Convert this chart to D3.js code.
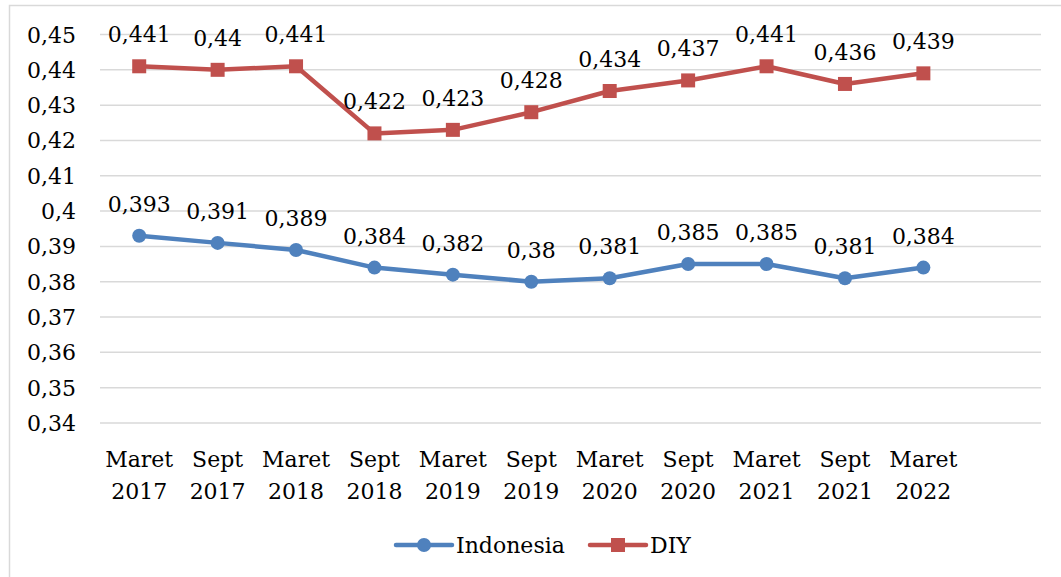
<!DOCTYPE html>
<html>
<head>
<meta charset="utf-8">
<script src="https://cdn.jsdelivr.net/npm/d3@7"></script>
<style>
  html, body { margin: 0; padding: 0; background: #fff; }
  svg text { font-family: "DejaVu Serif", serif; fill: #000; }
</style>
</head>
<body>
<svg id="canvas" width="1061" height="577"></svg>
<script>
// data
const periode = ["Maret 2017", "Sept 2017", "Maret 2018", "Sept 2018", "Maret 2019", "Sept 2019",
                 "Maret 2020", "Sept 2020", "Maret 2021", "Sept 2021", "Maret 2022"];
const indonesia = [0.393, 0.391, 0.389, 0.384, 0.382, 0.38, 0.381, 0.385, 0.385, 0.381, 0.384];
const diy = [0.441, 0.44, 0.441, 0.422, 0.423, 0.428, 0.434, 0.437, 0.441, 0.436, 0.439];
const yTicks = [0.34, 0.35, 0.36, 0.37, 0.38, 0.39, 0.40, 0.41, 0.42, 0.43, 0.44, 0.45];

const svg = d3.select("#canvas");
const fs = 22;

// bingkai chart
svg.append("rect")
    .attr("x", 9.5).attr("y", 5.5)
    .attr("width", 1070).attr("height", 600)
    .attr("fill", "none")
    .attr("stroke", "#d9d9d9")
    .attr("stroke-width", 1.5);

// skala: slot ke-12 dibiarkan kosong seperti di aslinya
const x = d3.scaleBand()
    .domain(d3.range(periode.length + 1))
    .range([100, 1041]);

const y = d3.scaleLinear()
    .domain([0.34, 0.45])
    .range([423, 34.5]);

const fmt = v => String(+v.toFixed(3)).replace(".", ",");

// garis grid dan label sumbu Y
yTicks.forEach(t => {
    svg.append("line")
        .attr("x1", 100).attr("x2", 1041)
        .attr("y1", y(t)).attr("y2", y(t))
        .attr("stroke", "#d9d9d9")
        .attr("stroke-width", 1.5);
    svg.append("text")
        .attr("x", 76)
        .attr("y", y(t) + 8)
        .attr("text-anchor", "end")
        .style("font-size", fs + "px")
        .text(fmt(t));
});

// label sumbu X (dua baris)
periode.forEach((p, i) => {
    const cx = x(i) + x.bandwidth() / 2;
    const parts = p.split(" ");
    const t = svg.append("text")
        .attr("text-anchor", "middle")
        .style("font-size", fs + "px");
    t.append("tspan").attr("x", cx).attr("y", 467).text(parts[0]);
    t.append("tspan").attr("x", cx).attr("y", 499).text(parts[1]);
});

const seri = [
    { nama: "Indonesia", nilai: indonesia, warna: "#4F81BD", bentuk: "circle" },
    { nama: "DIY", nilai: diy, warna: "#C0504D", bentuk: "square" }
];

const line = d3.line()
    .x((d, i) => x(i) + x.bandwidth() / 2)
    .y(d => y(d));

function marker(g, bentuk, cx, cy, warna) {
    if (bentuk === "circle") {
        g.append("circle").attr("cx", cx).attr("cy", cy).attr("r", 7).attr("fill", warna);
    } else {
        g.append("rect").attr("x", cx - 7).attr("y", cy - 7)
            .attr("width", 14).attr("height", 14).attr("fill", warna);
    }
}

seri.forEach(s => {
    svg.append("path")
        .attr("d", line(s.nilai))
        .attr("fill", "none")
        .attr("stroke", s.warna)
        .attr("stroke-width", 4.5)
        .attr("stroke-linejoin", "round");

    const g = svg.append("g");
    s.nilai.forEach((v, i) => {
        const cx = x(i) + x.bandwidth() / 2;
        marker(g, s.bentuk, cx, y(v), s.warna);
        svg.append("text")
            .attr("x", cx)
            .attr("y", y(v) - 24)
            .attr("text-anchor", "middle")
            .style("font-size", fs + "px")
            .text(fmt(v));
    });
});

// legenda
const legend = [
    { s: seri[0], x0: 396 },
    { s: seri[1], x0: 590 }
];
legend.forEach(l => {
    const ly = 545;
    svg.append("line")
        .attr("x1", l.x0).attr("x2", l.x0 + 56)
        .attr("y1", ly).attr("y2", ly)
        .attr("stroke", l.s.warna)
        .attr("stroke-width", 4.5)
        .attr("stroke-linecap", "round");
    marker(svg, l.s.bentuk, l.x0 + 28, ly, l.s.warna);
    svg.append("text")
        .attr("x", l.x0 + 60)
        .attr("y", ly + 8)
        .style("font-size", fs + "px")
        .text(l.s.nama);
});
</script>
</body>
</html>
